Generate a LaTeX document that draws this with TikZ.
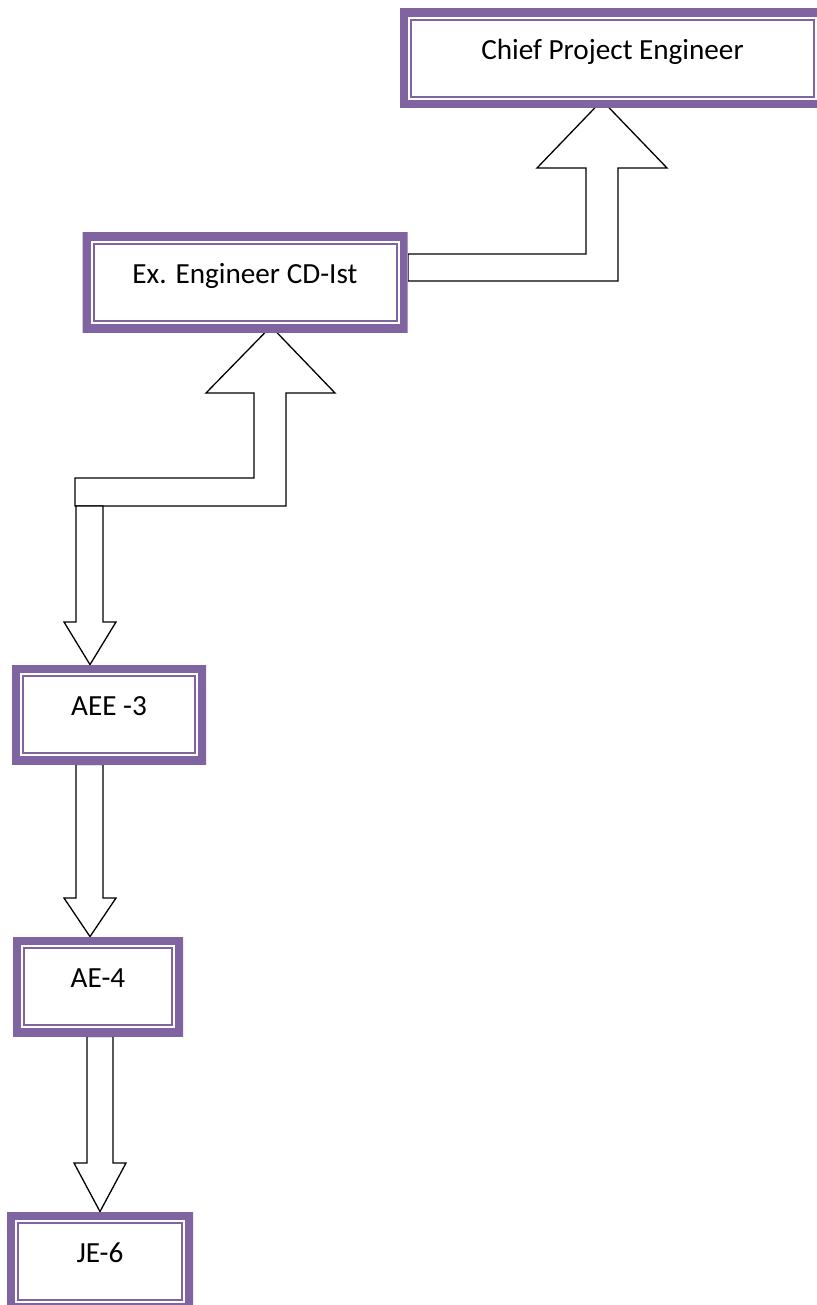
\documentclass[tikz,border=0pt]{standalone}
\usepackage{fontspec}
\setmainfont{Carlito}
\usetikzlibrary{backgrounds}
\definecolor{boxpurple}{HTML}{8064A2}
\tikzset{
  postbox/.style={fill=white, minimum height=49.5pt, inner sep=0pt,
    font=\fontsize{14.6}{17}\selectfont, text height=9pt, text depth=8pt,
    path picture={
      \draw[boxpurple,line width=8pt] (path picture bounding box.south west) rectangle (path picture bounding box.north east);
      \draw[boxpurple,line width=1pt] ([shift={(5.5pt,5.5pt)}]path picture bounding box.south west) rectangle ([shift={(-5.5pt,-5.5pt)}]path picture bounding box.north east);
    }},
  blockarrow/.style={draw=black, fill=white, line width=0.65pt}
}
\begin{document}
\begin{tikzpicture}[x=0.5pt,y=-0.5pt]
  \useasboundingbox (0,0) rectangle (816,1305);
  % posts
  \node[postbox, minimum width=212.5pt] (chief) at (612.5,58.5) {Chief Project Engineer};
  \node[postbox, minimum width=162.5pt] (exen) at (245,282.5) {Ex. Engineer CD-Ist};
  \node[postbox, minimum width=97pt] (aee) at (109,714.5) {AEE -3};
  \node[postbox, minimum width=85pt] (ae) at (98,986.5) {AE-4};
  \node[postbox, minimum width=93pt] (je) at (100,1261.5) {JE-6};
  % block arrows
  \begin{pgfonlayer}{background}
    \draw[blockarrow] (exen.east |- 0,254) -- (586,254) -- (586,168) -- (537,168) -- ([yshift=4pt]chief.south -| 602,0) -- (667,168) -- (618,168) -- (618,281) -- (exen.east |- 0,281) -- cycle;
    \draw[blockarrow] (75,478) -- (254,478) -- (254,393) -- (206,393) -- ([yshift=3pt]exen.south -| 271,0) -- (335,393) -- (286,393) -- (286,506) -- (75,506) -- cycle;
    \draw[blockarrow] (76,506) -- (76,622) -- (64,622) -- (aee.north -| 90,0) -- (116,622) -- (103,622) -- (103,506) -- cycle;
    \draw[blockarrow] (aee.south -| 76,0) -- (76,898) -- (64,898) -- (ae.north -| 90,0) -- (116,898) -- (103,898) -- (aee.south -| 103,0) -- cycle;
    \draw[blockarrow] (ae.south -| 87,0) -- (87,1163) -- (74,1163) -- (je.north -| 100,0) -- (126,1163) -- (113,1163) -- (ae.south -| 113,0) -- cycle;
  \end{pgfonlayer}
\end{tikzpicture}
\end{document}
